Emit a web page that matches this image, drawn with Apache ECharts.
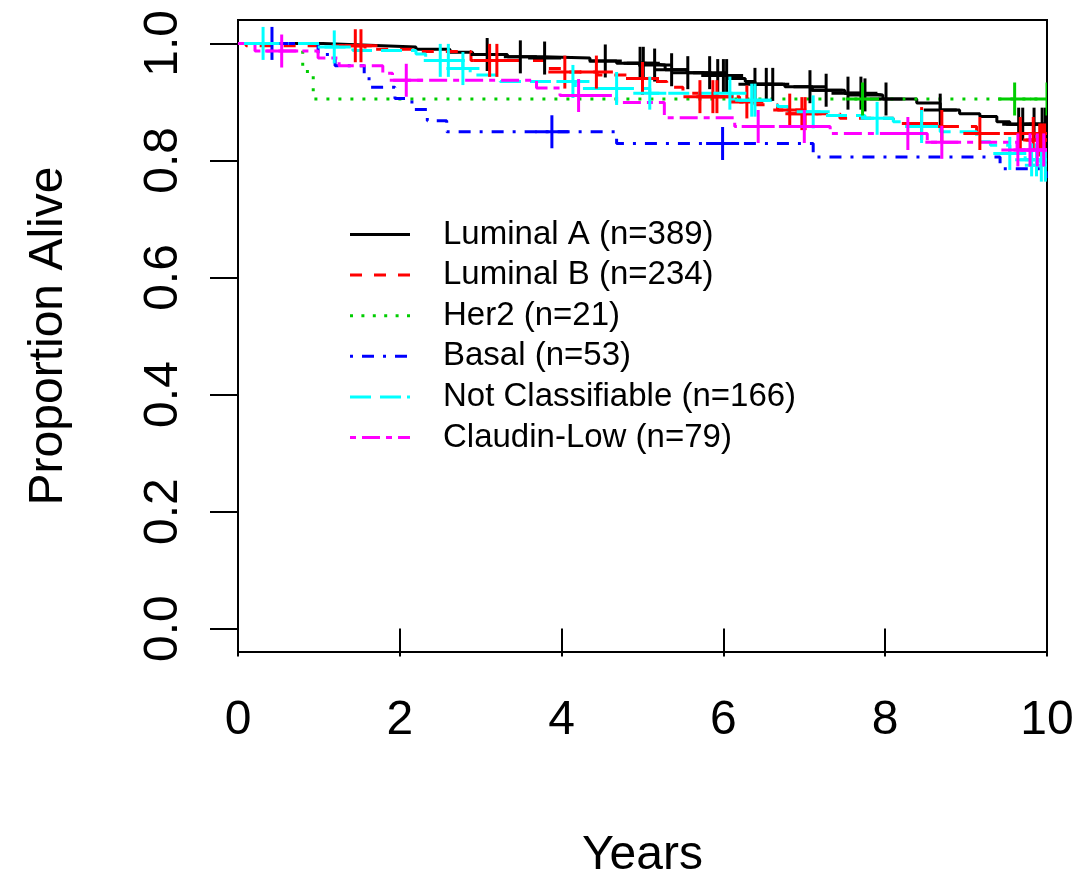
<!DOCTYPE html>
<html>
<head>
<meta charset="utf-8">
<title>Survival by subtype</title>
<script src="https://cdn.jsdelivr.net/npm/echarts@6.0.0/dist/echarts.min.js"></script>
<style>
  html, body { margin: 0; padding: 0; background: #fff; }
  #chart { width: 1090px; height: 877px; }
</style>
</head>
<body>
<div id="chart"></div>
<script>
// tick labels
const xTicks = [0, 2, 4, 6, 8, 10];
const yTicks = [0, 0.2, 0.4, 0.6, 0.8, 1.0];

// Kaplan-Meier steps (time in years, proportion alive after the step)
const lumATimes = [0, 1.05, 1.62, 2.2, 2.62, 2.9, 3.33, 3.77, 4.35, 4.68, 5.03, 5.28, 5.55, 5.85, 6.06, 6.27, 6.39, 6.76, 7.1, 7.5, 7.73, 7.97, 8.39, 8.68, 8.92, 9.17, 9.38, 9.54, 10];
const lumASurv = [1, 0.997, 0.994, 0.990, 0.985, 0.981, 0.977, 0.975, 0.970, 0.966, 0.963, 0.955, 0.950, 0.945, 0.940, 0.935, 0.930, 0.926, 0.920, 0.915, 0.912, 0.905, 0.898, 0.886, 0.880, 0.875, 0.866, 0.862, 0.862];
const lumACensor = [3.08, 3.49, 3.79, 4.54, 4.97, 5.01, 5.15, 5.36, 5.56, 5.83, 5.93, 6.0, 6.04, 6.39, 6.53, 6.61, 7.07, 7.27, 7.54, 7.70, 7.75, 8.01, 8.68, 9.65, 9.70, 9.84, 9.94, 9.98];

const lumBTimes = [0, 0.1, 1.57, 2.21, 2.88, 3.79, 4.02, 4.44, 4.81, 5.09, 5.3, 5.5, 5.71, 6.2, 6.39, 6.67, 6.97, 7.44, 8.1, 8.49, 9.13, 9.9, 10];
const lumBSurv = [1, 0.996, 0.990, 0.986, 0.971, 0.957, 0.951, 0.946, 0.940, 0.935, 0.925, 0.915, 0.909, 0.900, 0.895, 0.886, 0.880, 0.872, 0.863, 0.858, 0.846, 0.835, 0.835];
const lumBCensor = [1.45, 1.52, 3.11, 3.2, 4.04, 4.43, 5.0, 5.71, 5.87, 5.92, 6.29, 6.82, 6.97, 7.01, 8.45, 8.70, 9.17, 9.67, 9.83, 9.91, 9.94, 9.97];

const her2Times = [0, 0.8, 0.93, 10];
const her2Surv = [1, 0.952, 0.905, 0.905];
const her2Censor = [7.72, 9.6, 10];

const basalTimes = [0, 0.99, 1.2, 1.56, 1.62, 1.94, 2.15, 2.34, 2.58, 4.68, 7.11, 9.42, 9.99, 10];
const basalSurv = [1, 0.981, 0.962, 0.943, 0.925, 0.906, 0.887, 0.868, 0.849, 0.829, 0.806, 0.786, 0.77, 0.77];
const basalCensor = [0.42, 3.88, 5.99];

const notClassTimes = [0, 1.05, 1.42, 2.2, 2.32, 2.78, 2.87, 3.24, 4.17, 5.09, 6.11, 6.67, 6.8, 7.22, 7.75, 8.1, 8.27, 8.68, 9.13, 9.3, 9.54, 9.73, 9.91, 10];
const notClassSurv = [1, 0.994, 0.988, 0.982, 0.971, 0.957, 0.946, 0.935, 0.923, 0.915, 0.903, 0.892, 0.883, 0.877, 0.872, 0.866, 0.858, 0.849, 0.832, 0.826, 0.812, 0.801, 0.792, 0.792];
const notClassCensor = [0.31, 1.19, 2.5, 2.6, 2.78, 4.14, 4.68, 5.09, 6.08, 6.35, 6.39, 7.11, 7.9, 8.45, 9.54, 9.81, 9.87, 9.93, 9.98];

const claudinTimes = [0, 0.21, 0.99, 1.25, 1.79, 1.91, 3.69, 3.98, 4.68, 5.27, 6.14, 7.32, 8.52, 9.63, 10];
const claudinSurv = [1, 0.987, 0.975, 0.962, 0.949, 0.937, 0.924, 0.911, 0.899, 0.873, 0.858, 0.846, 0.831, 0.818, 0.818];
const claudinCensor = [0.54, 2.08, 4.21, 6.43, 7.0, 8.28, 8.70, 9.64, 9.79, 9.88, 9.96];

const font = 'Liberation Sans, Arial, sans-serif';

// legend sample = dash segments inside a 60px line, text offset kept by a zero-area point at x=88
function legendIcon(segs) {
  return 'path://' + segs.map(([a, b]) => `M${a},0h${b - a}v3h${a - b}z`).join('') + 'M0,0L0,3M88,0L88,3';
}

const groups = [
  { name: 'Luminal A (n=389)', color: '#000000', dash: 'solid', times: lumATimes, surv: lumASurv, censor: lumACensor,
    icon: legendIcon([[0, 60]]) },
  { name: 'Luminal B (n=234)', color: '#FF0000', dash: [12, 12], times: lumBTimes, surv: lumBSurv, censor: lumBCensor,
    icon: legendIcon([[0, 12], [24, 36], [48, 60]]) },
  { name: 'Her2 (n=21)', color: '#00CD00', dash: [3, 9], times: her2Times, surv: her2Surv, censor: her2Censor,
    icon: legendIcon([[0, 3], [11.4, 14.4], [22.8, 25.8], [34.2, 37.2], [45.6, 48.6], [57, 60]]) },
  { name: 'Basal (n=53)', color: '#0000FF', dash: [3, 9, 12, 9], times: basalTimes, surv: basalSurv, censor: basalCensor,
    icon: legendIcon([[0, 3], [12, 24], [33, 36], [45, 57]]) },
  { name: 'Not Classifiable (n=166)', color: '#00FFFF', dash: [21, 9], times: notClassTimes, surv: notClassSurv, censor: notClassCensor,
    icon: legendIcon([[0, 21], [30, 51], [57, 60]]) },
  { name: 'Claudin-Low (n=79)', color: '#FF00FF', dash: [6, 6, 18, 6], times: claudinTimes, surv: claudinSurv, censor: claudinCensor,
    icon: legendIcon([[0, 6], [12, 30], [36, 42], [48, 60]]) }
];

function survAt(times, surv, t) {
  let s = surv[0];
  for (let i = 0; i < times.length; i++) {
    if (times[i] <= t) s = surv[i];
  }
  return s;
}

// censoring "+" marks, clipped to the plot box like R does
function plusMark(color) {
  return function (params, api) {
    const p = api.coord([api.value(0), api.value(1)]);
    const h = 16.5;
    const style = { stroke: color, lineWidth: 3 };
    return {
      type: 'group',
      children: [
        { type: 'line', shape: { x1: p[0] - h, y1: p[1], x2: p[0] + h, y2: p[1] }, style: style },
        { type: 'line', shape: { x1: p[0], y1: p[1] - h, x2: p[0], y2: p[1] + h }, style: style }
      ]
    };
  };
}

const series = [];
groups.forEach((g) => {
  series.push({
    name: g.name,
    type: 'line',
    step: 'end',
    symbol: 'none',
    color: g.color,
    lineStyle: { color: g.color, width: 3, type: g.dash },
    data: g.times.map((t, i) => [t, g.surv[i]]),
    z: 2
  });
});
groups.forEach((g) => {
  series.push({
    name: g.name + ' censored',
    type: 'custom',
    clip: true,
    renderItem: plusMark(g.color),
    data: g.censor.map((t) => [t, survAt(g.times, g.surv, t)]),
    z: 3
  });
});

const chart = echarts.init(document.getElementById('chart'));
chart.setOption({
  animation: false,
  backgroundColor: '#ffffff',
  grid: {
    left: 238, right: 43, top: 20, bottom: 225,
    outerBoundsMode: 'none',
    show: true, borderColor: '#000', borderWidth: 2, backgroundColor: 'transparent'
  },
  legend: {
    orient: 'vertical',
    left: 345,
    top: 213,
    itemWidth: 88,
    itemHeight: 3,
    itemGap: 7.6,
    selectedMode: false,
    itemStyle: { borderWidth: 0 },
    textStyle: { fontSize: 33, lineHeight: 33, color: '#000', fontFamily: font },
    data: groups.map((g) => ({ name: g.name, icon: g.icon }))
  },
  xAxis: {
    type: 'value',
    min: 0,
    max: 10,
    name: 'Years',
    nameLocation: 'middle',
    nameGap: 180,
    nameTextStyle: { fontSize: 48, color: '#000', fontFamily: font },
    axisLine: { show: false },
    axisTick: { show: true, length: 28, customValues: xTicks, lineStyle: { color: '#000', width: 2 } },
    axisLabel: { fontSize: 48, color: '#000', fontFamily: font, margin: 45, customValues: xTicks },
    splitLine: { show: false }
  },
  yAxis: {
    type: 'value',
    min: -0.04,
    max: 1.04,
    name: 'Proportion Alive',
    nameLocation: 'middle',
    nameRotate: 90,
    nameGap: 165,
    nameTextStyle: { fontSize: 48, color: '#000', fontFamily: font },
    axisLine: { show: false },
    axisTick: { show: true, length: 28, customValues: yTicks, lineStyle: { color: '#000', width: 2 } },
    axisLabel: {
      rotate: 90, fontSize: 48, color: '#000', fontFamily: font, margin: 50,
      customValues: yTicks,
      formatter: (v) => v.toFixed(1)
    },
    splitLine: { show: false }
  },
  series: series
});
</script>
</body>
</html>
